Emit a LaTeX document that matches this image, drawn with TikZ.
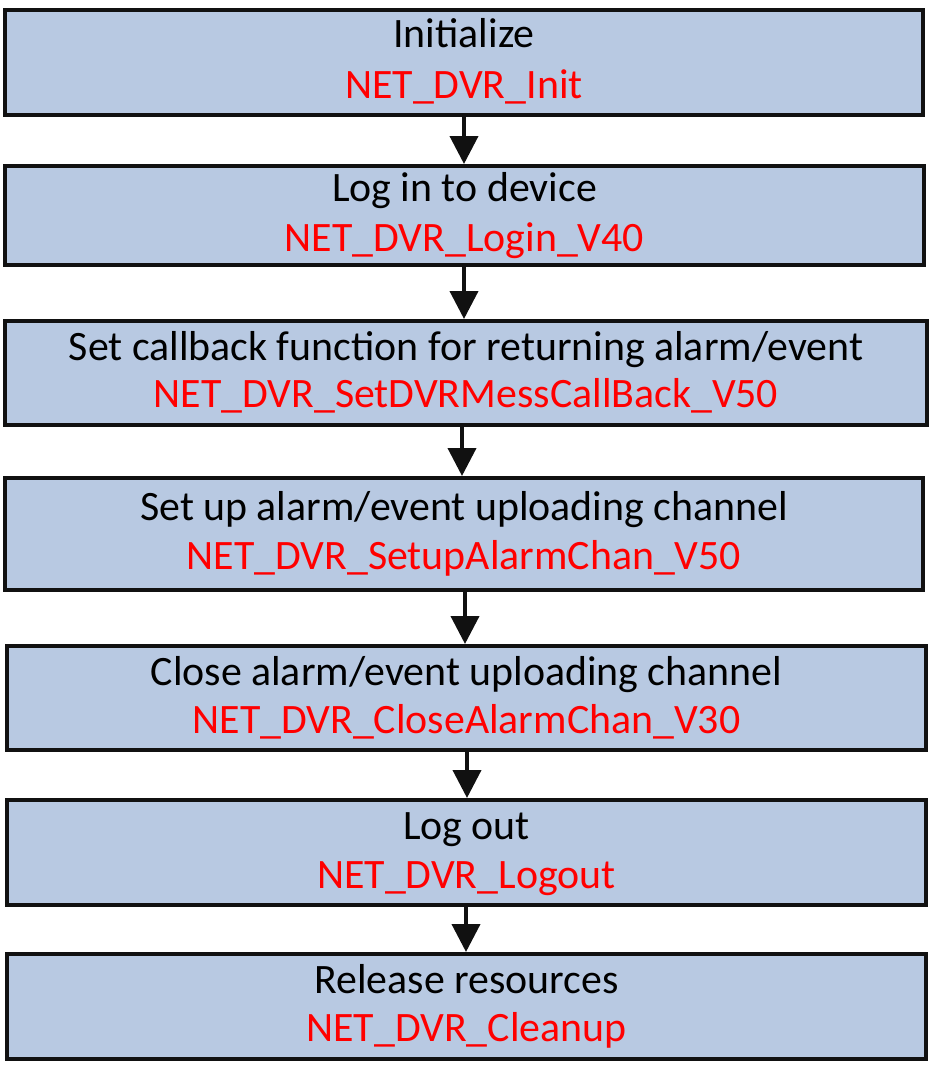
\documentclass[tikz,border=0pt]{standalone}
\usepackage{fontspec}
\setmainfont{Carlito}
\usetikzlibrary{arrows.meta}
\definecolor{boxfill}{RGB}{184,201,226}
\definecolor{boxline}{RGB}{17,17,17}
\definecolor{apired}{RGB}{255,0,0}
\tikzset{
  stepbox/.style={draw=boxline, fill=boxfill, line width=3pt, rectangle, inner sep=0pt},
  title/.style={anchor=base, inner sep=0pt, text=black, font=\fontsize{31.4pt}{36pt}\selectfont},
  api/.style={anchor=base, inner sep=0pt, text=apired, font=\fontsize{31.4pt}{36pt}\selectfont},
  flow/.style={draw=boxline, line width=3pt, -{Triangle[width=21pt,length=21pt]}}
}
\begin{document}
\begin{tikzpicture}[x=0.75pt,y=-0.75pt]
\useasboundingbox (0,0) rectangle (931,1078);
% boxes
\node[stepbox, minimum width=918*0.75pt, minimum height=105*0.75pt] (b1) at (464,62.5) {};
\node[stepbox, minimum width=919*0.75pt, minimum height=99*0.75pt] (b2) at (464.5,215.5) {};
\node[stepbox, minimum width=922*0.75pt, minimum height=104*0.75pt] (b3) at (466,373) {};
\node[stepbox, minimum width=918*0.75pt, minimum height=112*0.75pt] (b4) at (464,534) {};
\node[stepbox, minimum width=919*0.75pt, minimum height=104*0.75pt] (b5) at (466.5,698) {};
\node[stepbox, minimum width=919*0.75pt, minimum height=105*0.75pt] (b6) at (466.5,852.5) {};
\node[stepbox, minimum width=919*0.75pt, minimum height=105*0.75pt] (b7) at (466.5,1006.5) {};
% texts
\node[title] (t1) at (464,47.5) {Initialize};
\node[api] (a1) at (464,98) {NET\_DVR\_Init};
\node[title] (t2) at (464.5,201) {Log in to device};
\node[api] (a2) at (464.5,251) {NET\_DVR\_Login\_V40};
\node[title] (t3) at (466,360.5) {Set callback function for returning alarm/event};
\node[api] (a3) at (466,407.5) {NET\_DVR\_SetDVRMessCallBack\_V50};
\node[title] (t4) at (464,520) {Set up alarm/event uploading channel};
\node[api] (a4) at (464,569) {NET\_DVR\_SetupAlarmChan\_V50};
\node[title] (t5) at (466.5,685.5) {Close alarm/event uploading channel};
\node[api] (a5) at (466.5,733) {NET\_DVR\_CloseAlarmChan\_V30};
\node[title] (t6) at (466.5,839) {Log out};
\node[api] (a6) at (466.5,888) {NET\_DVR\_Logout};
\node[title] (t7) at (466.5,993) {Release resources};
\node[api] (a7) at (466.5,1041.5) {NET\_DVR\_Cleanup};
% connectors
\coordinate (x12) at (464,0);
\coordinate (x23) at (464,0);
\coordinate (x34) at (462,0);
\coordinate (x45) at (465,0);
\coordinate (x56) at (467,0);
\coordinate (x67) at (466,0);
\draw[flow] (b1.south -| x12) -- (b2.north -| x12);
\draw[flow] (b2.south -| x23) -- (b3.north -| x23);
\draw[flow] (b3.south -| x34) -- (b4.north -| x34);
\draw[flow] (b4.south -| x45) -- (b5.north -| x45);
\draw[flow] (b5.south -| x56) -- (b6.north -| x56);
\draw[flow] (b6.south -| x67) -- (b7.north -| x67);
\end{tikzpicture}
\end{document}
